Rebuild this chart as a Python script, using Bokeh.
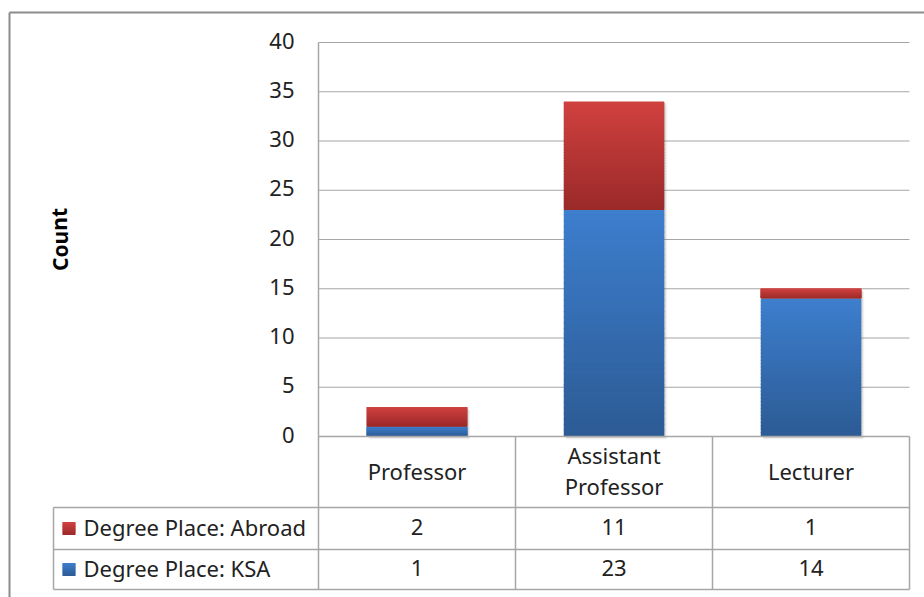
from bokeh.plotting import figure
from bokeh.models import Range1d, ColumnDataSource
from bokeh.core.properties import value
from bokeh.embed import file_html
from bokeh.resources import INLINE

# ---- data -------------------------------------------------------------
categories = ["Professor", "Assistant Professor", "Lecturer"]
category_labels = ["Professor", "Assistant\nProfessor", "Lecturer"]
series_names = ["Degree Place: Abroad", "Degree Place: KSA"]
abroad = [2, 11, 1]
ksa = [1, 23, 14]
y_ticks = [0, 5, 10, 15, 20, 25, 30, 35, 40]

# ---- layout (pixels) --------------------------------------------------
W, H = 924, 597
AXIS_X = 318          # left edge of the plotting area
COL_W = 197           # width of one category column
ZERO_Y = 436          # pixel row of the value 0
UNIT_PX = 9.85        # pixels per count
BAR_W = 0.51          # bar width as a fraction of a column
TABLE_LEFT = 53
TABLE_RIGHT = AXIS_X + 3 * COL_W
ROW_LINES = [436, 507, 549, 589]
FONT = value("Noto Sans")
FONT_SIZE = "22px"
TEXT_SHIFT = -2       # nudge text up so glyphs sit centred on their rows
TEXT_COLOR = "#222222"
GRID_COLOR = "#A6A6A6"

RED_TOP, RED_BOTTOM = (208, 65, 63), (154, 42, 41)
BLUE_TOP, BLUE_BOTTOM = (61, 126, 206), (44, 91, 148)


def fx(px):
    return (px - AXIS_X) / COL_W


def fy(py):
    return (ZERO_Y - py) / UNIT_PX


def hexcol(c):
    return "#%02x%02x%02x" % tuple(int(round(v)) for v in c)


def mix(a, b, t):
    return tuple(a[i] + (b[i] - a[i]) * t for i in range(3))


def gradient_slices(left, right, bottom, top, c_top, c_bottom, n=40):
    """Split a box into n horizontal bands shaded from c_bottom to c_top.
    Each band reaches a little into the next one so no seams show."""
    overlap = 1.0 / UNIT_PX
    out = dict(left=[], right=[], bottom=[], top=[], color=[])
    for k in range(n):
        b = bottom + (top - bottom) * k / n
        t = bottom + (top - bottom) * (k + 1) / n
        out["left"].append(left)
        out["right"].append(right)
        out["bottom"].append(b)
        out["top"].append(min(t + overlap, top))
        out["color"].append(hexcol(mix(c_bottom, c_top, (k + 0.5) / n)))
    return out


def merge(parts):
    res = dict(left=[], right=[], bottom=[], top=[], color=[])
    for part in parts:
        for key in res:
            res[key].extend(part[key])
    return res


p = figure(width=W, height=H,
           x_range=Range1d(fx(0), fx(W)), y_range=Range1d(fy(H), fy(0)),
           x_axis_location=None, y_axis_location=None,
           output_backend="svg", toolbar_location=None, min_border=0,
           outline_line_color=None, background_fill_color="white",
           border_fill_color="white")
p.grid.visible = False

# outer chart border
p.segment(x0=[fx(9), fx(9)], y0=[fy(12), fy(12)], x1=[fx(W + 5), fx(9)],
          y1=[fy(12), fy(H + 5)], line_color="#8C8C8C", line_width=2)

# horizontal gridlines
grid_vals = [v for v in y_ticks if v > 0]
p.segment(x0=[fx(AXIS_X)] * len(grid_vals), y0=grid_vals,
          x1=[fx(TABLE_RIGHT)] * len(grid_vals), y1=grid_vals,
          line_color=GRID_COLOR, line_width=1.2)

# bar shadows
centers = [i + 0.5 for i in range(len(categories))]
totals = [a + k for a, k in zip(abroad, ksa)]
for off, alpha in [(1, 0.18), (2, 0.12), (3, 0.06)]:
    p.quad(left=[c - BAR_W / 2 + off / COL_W for c in centers],
           right=[c + BAR_W / 2 + off / COL_W for c in centers],
           bottom=[-off / UNIT_PX] * len(centers),
           top=[t - off / UNIT_PX for t in totals],
           fill_color="#606060", fill_alpha=alpha, line_color=None)

# stacked bars with vertical shading per segment
parts = []
for c, k, a in zip(centers, ksa, abroad):
    parts.append(gradient_slices(c - BAR_W / 2, c + BAR_W / 2, 0, k, BLUE_TOP, BLUE_BOTTOM))
    parts.append(gradient_slices(c - BAR_W / 2, c + BAR_W / 2, k, k + a, RED_TOP, RED_BOTTOM))
bars = ColumnDataSource(merge(parts))
p.quad(left="left", right="right", bottom="bottom", top="top", source=bars,
       fill_color="color", line_color=None)

# y tick labels
p.text(x=[fx(294)] * len(y_ticks), y=y_ticks, text=[str(v) for v in y_ticks],
       text_align="right", text_baseline="middle", text_font=FONT,
       text_font_size=FONT_SIZE, text_color=TEXT_COLOR, y_offset=TEXT_SHIFT)

# axis title
p.text(x=[fx(59)], y=[fy(239)], text=["Count"], angle=1.5708,
       text_align="center", text_baseline="middle", text_font=FONT,
       text_font_style="bold", text_font_size="21px", text_color="#000000")

# data table grid
hx0 = [fx(AXIS_X)] + [fx(TABLE_LEFT)] * 3
hy = [fy(r) for r in ROW_LINES]
p.segment(x0=hx0, y0=hy, x1=[fx(TABLE_RIGHT)] * 4, y1=hy,
          line_color=GRID_COLOR, line_width=1.5)
vx = [fx(AXIS_X), fx(AXIS_X + COL_W), fx(AXIS_X + 2 * COL_W), fx(TABLE_RIGHT), fx(TABLE_LEFT)]
vy0 = [fy(42), fy(ROW_LINES[0]), fy(ROW_LINES[0]), fy(ROW_LINES[0]), fy(ROW_LINES[1])]
p.segment(x0=vx, y0=vy0, x1=vx, y1=[fy(ROW_LINES[-1])] * 5,
          line_color=GRID_COLOR, line_width=1.5)

# category header row
p.text(x=centers, y=[fy(472)] * 3, text=category_labels, text_align="center",
       text_baseline="middle", text_font=FONT, text_font_size=FONT_SIZE,
       text_line_height=1.02, text_color=TEXT_COLOR, y_offset=TEXT_SHIFT)

# value rows
row_mid = [fy((ROW_LINES[1] + ROW_LINES[2]) / 2), fy((ROW_LINES[2] + ROW_LINES[3]) / 2)]
for series, ym in zip([abroad, ksa], row_mid):
    p.text(x=centers, y=[ym] * len(series), text=[str(v) for v in series],
           text_align="center", text_baseline="middle", text_font=FONT,
           text_font_size=FONT_SIZE, text_color=TEXT_COLOR, y_offset=TEXT_SHIFT)

# legend keys and series names in the table
key_parts = []
for ym, (ct, cb) in zip(row_mid, [(RED_TOP, RED_BOTTOM), (BLUE_TOP, BLUE_BOTTOM)]):
    key_parts.append(gradient_slices(fx(62), fx(75), ym - 6.5 / UNIT_PX, ym + 6.5 / UNIT_PX, ct, cb, n=8))
keys = ColumnDataSource(merge(key_parts))
p.quad(left="left", right="right", bottom="bottom", top="top", source=keys,
       fill_color="color", line_color=None)
p.text(x=[fx(83)] * 2, y=row_mid, text=series_names, text_align="left",
       text_baseline="middle", text_font=FONT, text_font_size=FONT_SIZE,
       text_color=TEXT_COLOR, y_offset=TEXT_SHIFT)

open("out.html", "w").write(file_html(p, INLINE))
